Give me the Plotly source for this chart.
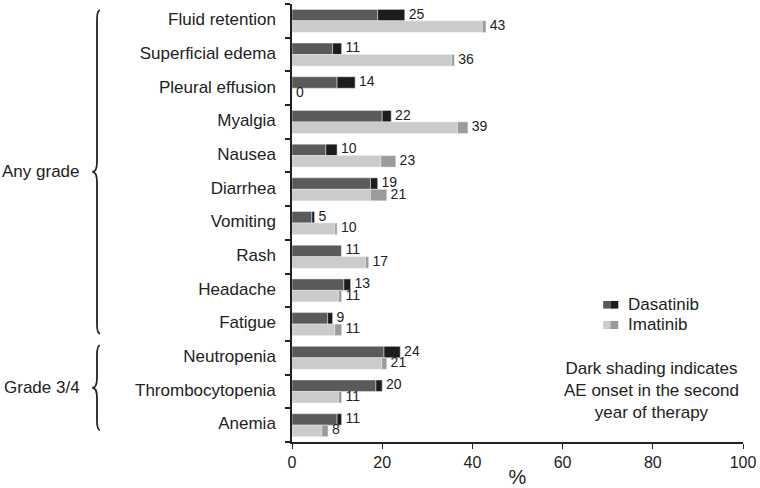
import plotly.graph_objects as go

# adverse events, top to bottom
events = ['Fluid retention', 'Superficial edema', 'Pleural effusion', 'Myalgia', 'Nausea',
          'Diarrhea', 'Vomiting', 'Rash', 'Headache', 'Fatigue',
          'Neutropenia', 'Thrombocytopenia', 'Anemia']

# % of patients: total and onset within first year
dasa_total = [25, 11, 14, 22, 10, 19, 5, 11, 13, 9, 24, 20, 11]
dasa_year1 = [19, 9, 10, 20, 7.5, 17.4, 4.4, 11, 11.5, 7.9, 20.4, 18.6, 10]
ima_total = [43, 36, 0, 39, 23, 21, 10, 17, 11, 11, 21, 11, 8]
ima_year1 = [42.2, 35.4, 0, 36.7, 19.7, 17.4, 9.5, 16.3, 10.3, 9.5, 19.9, 10.3, 6.6]

DARK, BLACK, LIGHT, MID = '#5a5a5a', '#1c1c1c', '#cbcbcb', '#9b9b9b'
FONT = 'Liberation Sans, Arial, sans-serif'
TXT = '#222222'

pos = list(range(len(events)))
dasa_y = [p - 0.17 for p in pos]
ima_y = [p + 0.17 for p in pos]
dasa_year2 = [t - a for t, a in zip(dasa_total, dasa_year1)]
ima_year2 = [t - a for t, a in zip(ima_total, ima_year1)]

fig = go.Figure()
bar = dict(orientation='h', width=0.34, showlegend=False, hoverinfo='skip')
fig.add_bar(x=dasa_year1, y=dasa_y, marker_color=DARK, **bar)
fig.add_bar(x=dasa_year2, y=dasa_y, base=dasa_year1, marker_color=BLACK, **bar)
fig.add_bar(x=ima_year1, y=ima_y, marker_color=LIGHT, **bar)
fig.add_bar(x=ima_year2, y=ima_y, base=ima_year1, marker_color=MID, **bar)

# value labels
for tot, yy in [(dasa_total, dasa_y), (ima_total, ima_y)]:
    fig.add_scatter(x=tot, y=yy, mode='text', text=[' ' + str(v) for v in tot],
                    textposition='middle right', textfont=dict(size=14, color=TXT),
                    cliponaxis=False, showlegend=False, hoverinfo='skip')

fig.update_layout(
    width=760, height=488,
    margin=dict(l=292, r=17, t=4, b=46),
    paper_bgcolor='white', plot_bgcolor='white',
    barmode='overlay',
    font=dict(family=FONT, size=17, color=TXT),
)
fig.update_xaxes(range=[0, 100], tickvals=[0, 20, 40, 60, 80, 100], automargin=False,
                 ticks='outside', ticklen=5, tickcolor=TXT, showline=True,
                 linecolor=TXT, linewidth=1.5, showgrid=False, zeroline=False,
                 tickfont=dict(size=16), title=dict(text='%', standoff=5))
fig.update_yaxes(range=[12.5, -0.5], tickvals=[p - 0.05 for p in pos], ticktext=events,
                 ticks='', ticklabelstandoff=11, showline=True, linecolor=TXT,
                 linewidth=1.5, showgrid=False, zeroline=False, automargin=False,
                 minor=dict(tickmode='array', tickvals=[p - 0.5 for p in pos] + [12.5],
                            ticks='outside', ticklen=5, tickcolor=TXT, tickwidth=1.5))

# group braces
def brace(y0, y1):
    xe, xb, xt, r = -0.4257, -0.4324, -0.443, 0.3
    ym = (y0 + y1) / 2
    return (f'M {xe},{y0} Q {xb},{y0} {xb},{y0 + r} L {xb},{ym - r} '
            f'Q {xb},{ym} {xt},{ym} Q {xb},{ym} {xb},{ym + r} '
            f'L {xb},{y1 - r} Q {xb},{y1} {xe},{y1}')

for y0, y1, label in [(-0.32, 9.28, 'Any grade'), (9.63, 12.15, 'Grade 3/4')]:
    fig.add_shape(type='path', path=brace(y0, y1), xref='paper', yref='y',
                  line=dict(color=TXT, width=1.8))
    fig.add_annotation(x=-0.4656, y=(y0 + y1) / 2, xref='paper', yref='y',
                       text=label, showarrow=False, xanchor='right', yanchor='middle')

# legend with two-tone swatches
for (y0, y1), c1, c2, name in [((0.3045, 0.322), DARK, BLACK, 'Dasatinib'),
                               ((0.258, 0.2764), LIGHT, MID, 'Imatinib')]:
    fig.add_shape(type='rect', xref='paper', yref='paper', x0=0.690, x1=0.706,
                  y0=y0, y1=y1, fillcolor=c1, line_width=0)
    fig.add_shape(type='rect', xref='paper', yref='paper', x0=0.706, x1=0.7235,
                  y0=y0, y1=y1, fillcolor=c2, line_width=0)
    fig.add_annotation(x=0.7406, y=(y0 + y1) / 2, xref='paper', yref='paper',
                       text=name, showarrow=False, xanchor='left', yanchor='middle')

fig.add_annotation(x=0.798, y=0.118, xref='paper', yref='paper', showarrow=False,
                   text='Dark shading indicates<br>AE onset in the second<br>year of therapy',
                   align='center', xanchor='center', yanchor='middle')

fig.write_html('out.html', config={'displayModeBar': False},
               post_script="document.body.style.margin='0';")
